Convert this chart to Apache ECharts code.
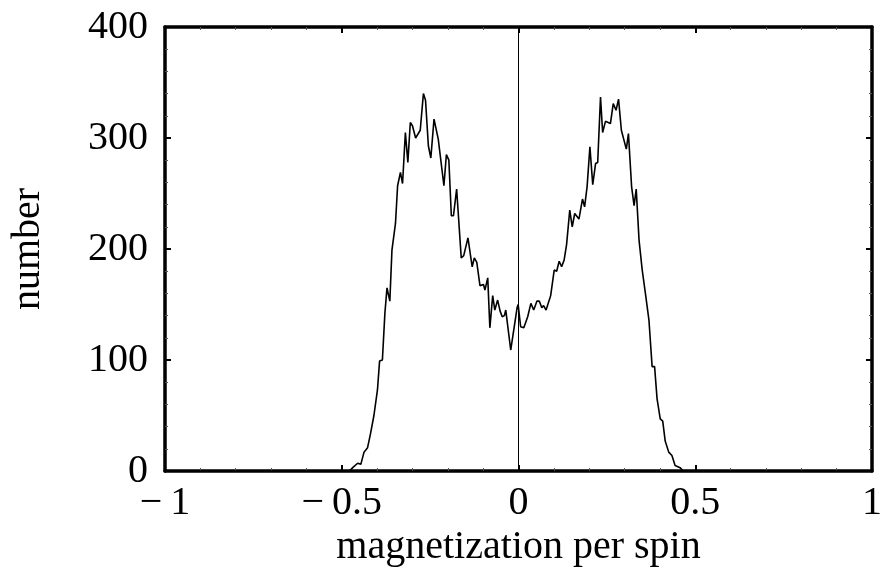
<!DOCTYPE html>
<html>
<head>
<meta charset="utf-8">
<script src="https://cdn.jsdelivr.net/npm/echarts@6/dist/echarts.min.js"></script>
<style>html,body{margin:0;padding:0;background:#fff}#c{width:885px;height:575px}</style>
</head>
<body>
<div id="c"></div>
<script>
// magnetization per spin (x) positions
var mValues = [-1, -0.5, -0.478, -0.469, -0.455, -0.446, -0.437, -0.427, -0.419, -0.409, -0.399, -0.393, -0.385, -0.378, -0.372, -0.364, -0.358, -0.348, -0.342, -0.334, -0.328, -0.320, -0.313, -0.306, -0.300, -0.291, -0.278, -0.269, -0.263, -0.255, -0.248, -0.239, -0.227, -0.211, -0.204, -0.197, -0.190, -0.184, -0.175, -0.162, -0.155, -0.143, -0.139, -0.131, -0.125, -0.118, -0.109, -0.099, -0.095, -0.087, -0.081, -0.073, -0.067, -0.059, -0.052, -0.046, -0.040, -0.036, -0.022, -0.012, -0.004, -0.001, 0.006, 0.015, 0.026, 0.035, 0.043, 0.052, 0.059, 0.066, 0.071, 0.078, 0.091, 0.101, 0.108, 0.115, 0.122, 0.129, 0.136, 0.145, 0.152, 0.159, 0.171, 0.181, 0.187, 0.194, 0.202, 0.210, 0.218, 0.224, 0.232, 0.238, 0.246, 0.260, 0.268, 0.276, 0.283, 0.291, 0.305, 0.311, 0.320, 0.327, 0.333, 0.341, 0.350, 0.359, 0.369, 0.378, 0.385, 0.392, 0.401, 0.408, 0.415, 0.425, 0.434, 0.443, 0.457, 0.466, 0.5, 1];
// number of samples at each magnetization
var counts = [0, 0, 0, 3, 7, 6, 17, 21, 33, 50, 73, 99, 100, 142, 165, 153, 199, 223, 257, 269, 259, 305, 278, 314, 311, 300, 307, 340, 334, 293, 282, 317, 299, 257, 285, 280, 230, 230, 254, 192, 194, 210, 209, 184, 192, 188, 167, 168, 163, 174, 129, 158, 145, 154, 144, 139, 140, 145, 109, 130, 147, 150, 130, 129, 139, 151, 145, 153, 153, 147, 149, 145, 158, 181, 180, 189, 184, 190, 204, 235, 220, 232, 227, 245, 238, 256, 292, 258, 277, 278, 337, 305, 315, 313, 331, 325, 335, 307, 290, 304, 256, 239, 254, 208, 181, 160, 136, 94, 94, 65, 47, 45, 27, 17, 14, 5, 3, 0, 0, 0];
var xTickValues = [-1, -0.5, 0, 0.5, 1];
var xTickLabels = ['\u2212\u20091', '\u2212\u20090.5', '0', '0.5', '1'];
var yTickLabels = ['0', '100', '200', '300', '400'];

var seriesData = mValues.map(function (m, i) { return [m, counts[i]]; });
var font = 'Liberation Serif';

function xLabel(v) {
  for (var i = 0; i < xTickValues.length; i++) {
    if (Math.abs(xTickValues[i] - v) < 1e-9) return xTickLabels[i];
  }
  return '';
}
function yLabel(v) { return yTickLabels[Math.round(v / 100)] || ''; }

var axisLine = { show: true, onZero: false, lineStyle: { color: '#000', width: 3.5 } };
var axisTick = { show: true, inside: true, length: 6, lineStyle: { color: '#000', width: 2 } };
var minorTick = { show: true, splitNumber: 5, length: 3, lineStyle: { color: '#555', width: 1 } };

var chart = echarts.init(document.getElementById('c'), null, { renderer: 'canvas' });
chart.setOption({
  animation: false,
  backgroundColor: '#fff',
  grid: { left: 159, right: 9, top: 27, bottom: 104 },
  xAxis: [{
    type: 'value', min: -1, max: 1, interval: 0.5, position: 'bottom',
    axisLine: axisLine, axisTick: axisTick, minorTick: minorTick,
    splitLine: { show: false },
    axisLabel: { formatter: xLabel, color: '#000', fontFamily: font, fontSize: 40, margin: 12 },
    name: 'magnetization per spin', nameLocation: 'middle', nameGap: 49,
    nameTextStyle: { color: '#000', fontFamily: font, fontSize: 40 }
  }, {
    type: 'value', min: -1, max: 1, interval: 0.5, position: 'top',
    axisLine: axisLine, axisTick: axisTick, minorTick: minorTick,
    splitLine: { show: false }, axisLabel: { show: false }
  }],
  yAxis: [{
    type: 'value', min: 0, max: 400, interval: 100, position: 'left',
    axisLine: axisLine, axisTick: axisTick, minorTick: minorTick,
    splitLine: { show: false },
    axisLabel: { formatter: yLabel, color: '#000', fontFamily: font, fontSize: 40, margin: 17 },
    name: 'number', nameLocation: 'middle', nameGap: 117, nameRotate: 90,
    nameTextStyle: { color: '#000', fontFamily: font, fontSize: 40 }
  }, {
    type: 'value', min: 0, max: 400, interval: 100, position: 'right',
    axisLine: axisLine, axisTick: axisTick, minorTick: minorTick,
    splitLine: { show: false }, axisLabel: { show: false }
  }],
  series: [{
    type: 'line', xAxisIndex: 0, yAxisIndex: 0,
    data: seriesData, showSymbol: false, symbol: 'none',
    lineStyle: { color: '#000', width: 1.6 },
    markLine: {
      silent: true, symbol: 'none', label: { show: false },
      lineStyle: { color: '#000', width: 1, type: 'solid' },
      data: [{ xAxis: 0 }]
    }
  }]
});
</script>
</body>
</html>
